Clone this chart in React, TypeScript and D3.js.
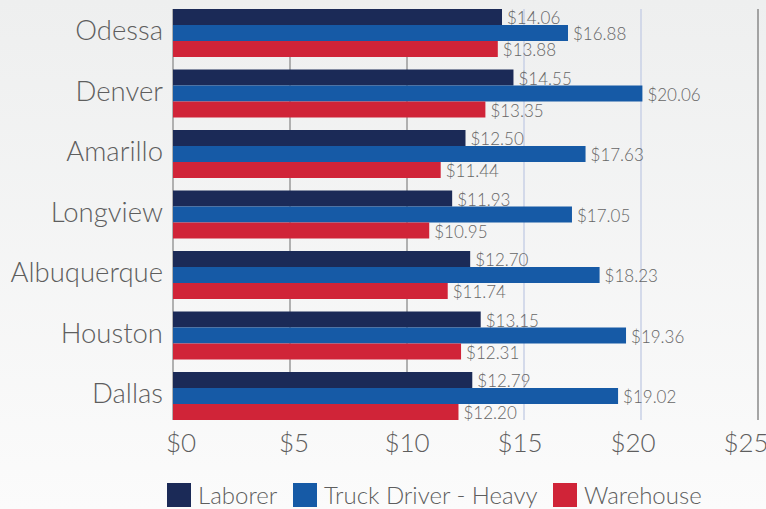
import React from "react";
import * as d3 from "d3";

const cities = ["Odessa", "Denver", "Amarillo", "Longview", "Albuquerque", "Houston", "Dallas"];
const seriesNames = ["Laborer", "Truck Driver - Heavy", "Warehouse"];
const laborer = [14.06, 14.55, 12.5, 11.93, 12.7, 13.15, 12.79];
const truckDriver = [16.88, 20.06, 17.63, 17.05, 18.23, 19.36, 19.02];
const warehouse = [13.88, 13.35, 11.44, 10.95, 11.74, 12.31, 12.2];
const tickValues = [0, 5, 10, 15, 20, 25];
const colors = ["#1b2a57", "#165aa6", "#d02438"];

const W = 766;
const H = 509;
const FONT = "Lato, 'Open Sans', sans-serif";

export default function App() {
  const seriesValues = [laborer, truckDriver, warehouse];
  const x = d3.scaleLinear().domain([0, 25]).range([173, 758]);
  const xLabel = d3.scaleLinear().domain([0, 25]).range([181, 746]);
  const y = d3.scaleBand<string>().domain(cities).range([9, 420]).paddingInner(12.5 / 60.5).paddingOuter(0);
  const ySub = d3.scaleBand<string>().domain(seriesNames).range([0, y.bandwidth()]);
  const fmt = (v: number) => "$" + d3.format(".2f")(v);
  const legendX = [167, 293, 553];

  return (
    <div style={{ position: "fixed", left: 0, top: 0, width: W, height: H }}>
      <svg width={W} height={H} style={{ display: "block" }}>
        <defs>
          <linearGradient id="bg" x1="0" y1="0" x2="0" y2="1">
            <stop offset="0" stopColor="#eeefef" />
            <stop offset="1" stopColor="#fbfbfb" />
          </linearGradient>
        </defs>
        <rect x={0} y={0} width={W} height={H} fill="url(#bg)" />
        {tickValues.map((t) => (
          <line
            key={"g" + t}
            x1={x(t)}
            x2={x(t)}
            y1={9}
            y2={420}
            stroke={t === 15 || t === 20 ? "#c9d0e6" : t === 25 ? "#8a8a8a" : "#9a9a9a"}
            strokeWidth={1.5}
          />
        ))}
        {cities.map((c, i) => (
          <g key={c} transform={`translate(0,${y(c)})`}>
            <text
              x={163}
              y={y.bandwidth() / 2 + 7}
              textAnchor="end"
              fontFamily={FONT}
              fontWeight={300}
              fontSize={27.5}
              fill="#5e5e5e"
            >
              {c}
            </text>
            {seriesNames.map((s, j) => {
              const v = seriesValues[j][i];
              return (
                <g key={s}>
                  <rect x={x(0)} y={ySub(s)} width={x(v) - x(0)} height={ySub.bandwidth()} fill={colors[j]} />
                  <text
                    x={x(v) + 5}
                    y={(ySub(s) as number) + ySub.bandwidth() - 1}
                    fontFamily={FONT}
                    fontWeight={300}
                    fontSize={17}
                    fill="#666666"
                  >
                    {fmt(v)}
                  </text>
                </g>
              );
            })}
          </g>
        ))}
        {tickValues.map((t) => (
          <text
            key={"t" + t}
            x={xLabel(t)}
            y={452}
            textAnchor="middle"
            fontFamily={FONT}
            fontWeight={300}
            fontSize={26}
            fill="#5e5e5e"
          >
            {"$" + t}
          </text>
        ))}
        {seriesNames.map((s, j) => (
          <g key={"l" + s} transform={`translate(${legendX[j]},483)`}>
            <rect x={0} y={0} width={24} height={24} fill={colors[j]} />
            <text x={31} y={21} fontFamily={FONT} fontWeight={300} fontSize={24} fill="#5e5e5e">
              {s}
            </text>
          </g>
        ))}
      </svg>
    </div>
  );
}
